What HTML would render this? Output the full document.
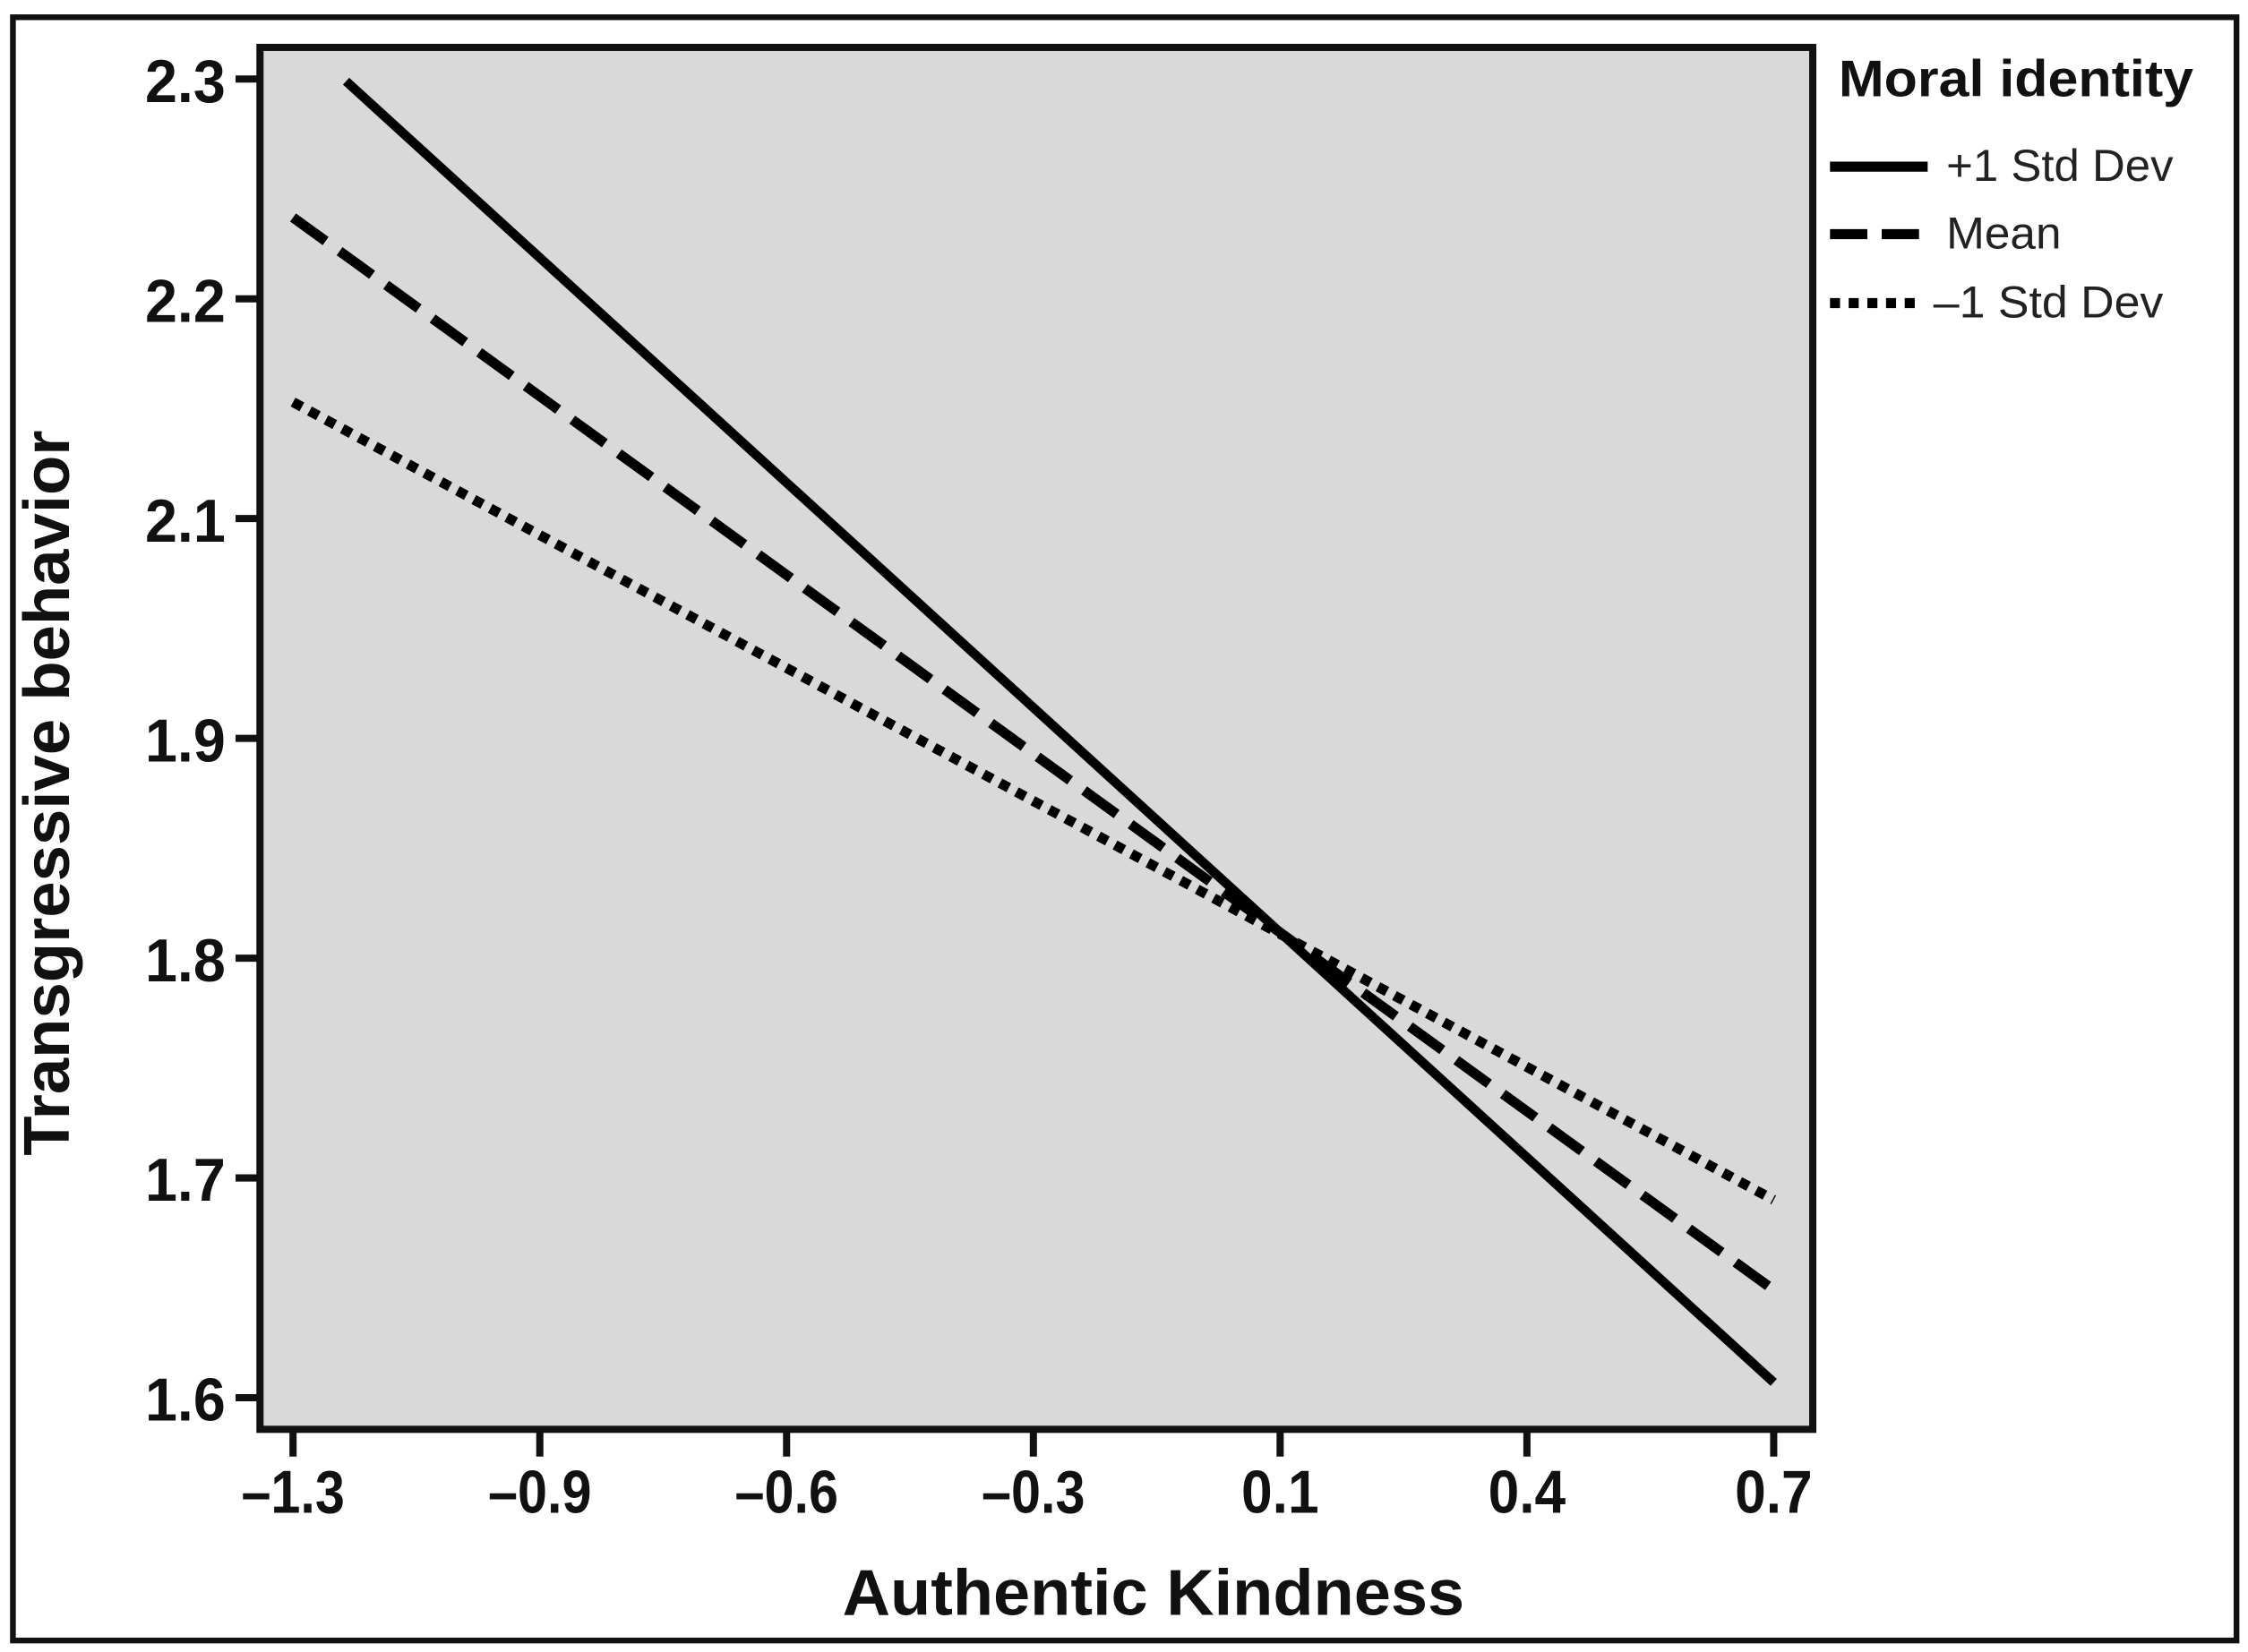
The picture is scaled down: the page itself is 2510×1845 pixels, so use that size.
<!DOCTYPE html>
<html><head><meta charset="utf-8"><style>
html,body{margin:0;padding:0;background:#fff;}
svg{display:block;}
.tick{font-family:"Liberation Sans Narrow","Liberation Sans",sans-serif;font-weight:bold;font-size:42px;fill:#111;}
</style></head><body>
<svg id="chart" width="2510" height="1845" viewBox="0 0 1565 1150" preserveAspectRatio="none" xmlns="http://www.w3.org/2000/svg">
<rect x="9" y="12" width="1548" height="1130" fill="#fff" stroke="#111" stroke-width="4"/>
<rect x="181" y="33" width="1081" height="962" fill="#d9d9d9" stroke="#111" stroke-width="5"/>
<g id="axes"></g>
<g id="series"></g>
<text x="803" y="1124" text-anchor="middle" font-family="Liberation Sans, sans-serif" font-weight="bold" font-size="45" fill="#111" textLength="433" lengthAdjust="spacingAndGlyphs">Authentic Kindness</text>
<text transform="translate(48,552) rotate(-90)" text-anchor="middle" font-family="Liberation Sans, sans-serif" font-weight="bold" font-size="45" fill="#111" textLength="505" lengthAdjust="spacingAndGlyphs">Transgressive behavior</text>
<g>
<text x="1280" y="67" font-family="Liberation Sans, sans-serif" font-weight="bold" font-size="36" fill="#111" textLength="247" lengthAdjust="spacingAndGlyphs">Moral identity</text>
<line x1="1274" y1="116" x2="1342" y2="116" stroke="#000" stroke-width="7"/>
<text x="1355" y="126" font-family="Liberation Sans, sans-serif" font-size="31" fill="#222" textLength="158" lengthAdjust="spacingAndGlyphs">+1 Std Dev</text>
<line x1="1274" y1="163" x2="1336" y2="163" stroke="#000" stroke-width="7" stroke-dasharray="26,10"/>
<text x="1355" y="173" font-family="Liberation Sans, sans-serif" font-size="31" fill="#222" textLength="80" lengthAdjust="spacingAndGlyphs">Mean</text>
<line x1="1274" y1="211" x2="1336" y2="211" stroke="#000" stroke-width="7" stroke-dasharray="7,6"/>
<text x="1346" y="221" font-family="Liberation Sans, sans-serif" font-size="31" fill="#222" textLength="160" lengthAdjust="spacingAndGlyphs">–1 Std Dev</text>
</g>
</svg>
<script>
const xTicks = [-1.3, -0.9, -0.6, -0.3, 0.1, 0.4, 0.7];
const xTickLabels = ["–1.3", "–0.9", "–0.6", "–0.3", "0.1", "0.4", "0.7"];
const yTicks = [2.3, 2.2, 2.1, 1.9, 1.8, 1.7, 1.6];
const yTickLabels = ["2.3", "2.2", "2.1", "1.9", "1.8", "1.7", "1.6"];
const seriesNames = ["plus1-sd", "mean", "minus1-sd"];
const plus1X = [-1.214, 0.7];
const plus1Y = [2.299, 1.607];
const meanX = [-1.3, 0.7];
const meanY = [2.237, 1.649];
const minus1X = [-1.3, 0.7];
const minus1Y = [2.153, 1.690];

const NS = "http://www.w3.org/2000/svg";
const X0 = 204, XSTEP = 171.8, Y0 = 55, YSTEP = 153;
function piece(ticks, v, p0, step) {
  for (let i = 0; i < ticks.length - 1; i++) {
    const a = ticks[i], b = ticks[i + 1];
    const lo = Math.min(a, b), hi = Math.max(a, b);
    if ((v >= lo && v <= hi) || (i === 0 && (a < b ? v < a : v > a)) || (i === ticks.length - 2)) {
      return p0 + (i + (v - a) / (b - a)) * step;
    }
  }
  return p0;
}
function xScale(v) { return piece(xTicks, v, X0, XSTEP); }
function yScale(v) { return piece(yTicks, v, Y0, YSTEP); }

const axes = document.getElementById("axes");
xTicks.forEach((t, i) => {
  const x = xScale(t);
  const l = document.createElementNS(NS, "line");
  l.setAttribute("x1", x); l.setAttribute("x2", x); l.setAttribute("y1", 995); l.setAttribute("y2", 1014);
  l.setAttribute("stroke", "#111"); l.setAttribute("stroke-width", 5);
  
  
  axes.appendChild(l);
  const tx = document.createElementNS(NS, "text");
  tx.setAttribute("x", x); tx.setAttribute("y", 1053); tx.setAttribute("text-anchor", "middle");
  tx.setAttribute("class", "tick");
  tx.setAttribute("textLength", xTickLabels[i].length * 18);
  tx.setAttribute("lengthAdjust", "spacingAndGlyphs");
  tx.textContent = xTickLabels[i];
  
  
  axes.appendChild(tx);
});
yTicks.forEach((t, i) => {
  const y = yScale(t);
  const l = document.createElementNS(NS, "line");
  l.setAttribute("x1", 164); l.setAttribute("x2", 181); l.setAttribute("y1", y); l.setAttribute("y2", y);
  l.setAttribute("stroke", "#111"); l.setAttribute("stroke-width", 5);
  
  
  axes.appendChild(l);
  const tx = document.createElementNS(NS, "text");
  tx.setAttribute("x", 157); tx.setAttribute("y", y + 16); tx.setAttribute("text-anchor", "end");
  tx.setAttribute("class", "tick");
  tx.setAttribute("textLength", 56);
  tx.setAttribute("lengthAdjust", "spacingAndGlyphs");
  tx.textContent = yTickLabels[i];
  
  
  axes.appendChild(tx);
});

const ser = document.getElementById("series");
const allX = [plus1X, meanX, minus1X];
const allY = [plus1Y, meanY, minus1Y];
const dashes = ["none", "28,12", "7,6"];
const widths = [6.5, 7, 7];
for (let s = 0; s < 3; s++) {
  const p = document.createElementNS(NS, "polyline");
  p.setAttribute("points", allX[s].map((x, i) => xScale(x) + "," + yScale(allY[s][i])).join(" "));
  p.setAttribute("fill", "none"); p.setAttribute("stroke", "#000"); p.setAttribute("stroke-width", widths[s]);
  if (dashes[s] !== "none") p.setAttribute("stroke-dasharray", dashes[s]);
  
  
  ser.appendChild(p);
}
</script>
</body></html>
